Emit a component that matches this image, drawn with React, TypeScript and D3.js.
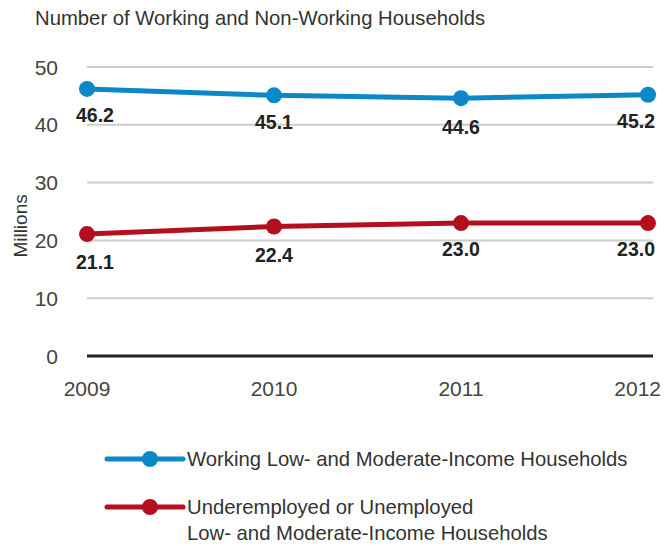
import React from "react";
import * as d3 from "d3";

const years = ["2009", "2010", "2011", "2012"];
const working = [46.2, 45.1, 44.6, 45.2];
const nonWorking = [21.1, 22.4, 23.0, 23.0];
const yTicks = [0, 10, 20, 30, 40, 50];
const title = "Number of Working and Non-Working Households";
const yTitle = "Millions";
const legendWorking = ["Working Low- and Moderate-Income Households"];
const legendNon = ["Underemployed or Unemployed", "Low- and Moderate-Income Households"];

const BLUE = "#0a88c8";
const RED = "#b30f1f";
const FONT = "'Liberation Sans', Arial, sans-serif";

export default function App() {
  const W = 669, H = 546;
  const x = d3.scalePoint<string>().domain(years).range([87, 648]);
  const y = d3.scaleLinear().domain([0, 50]).range([356, 67]);
  const gridX0 = 87, gridX1 = 653;
  const line = d3.line<number>().x((_, i) => x(years[i])!).y((d) => y(d));

  const labelPos = (i: number) => {
    const n = years.length;
    if (i === 0) return { dx: -11, anchor: "start" };
    if (i === n - 1) return { dx: 7, anchor: "end" };
    return { dx: 0, anchor: "middle" };
  };

  const series = [
    { vals: working, color: BLUE, off: [33, 34, 36, 33] },
    { vals: nonWorking, color: RED, off: [35, 35, 33, 33] },
  ];

  return (
    <div style={{ position: "absolute", left: 0, top: 0 }}>
      <svg width={W} height={H} style={{ display: "block", background: "#fff" }} fontFamily={FONT}>
        <text x={35} y={25} fontSize={20.3} fill="#333">{title}</text>
        {yTicks.map((t) => (
          <g key={t}>
            <line x1={gridX0} x2={gridX1} y1={y(t)} y2={y(t)}
              stroke={t === 0 ? "#222" : "#cccccc"} strokeWidth={t === 0 ? 3 : 2} />
            <text x={58} y={y(t)} dy="0.36em" textAnchor="end" fontSize={21} fill="#444">{t}</text>
          </g>
        ))}
        <text transform={`translate(27,${y(22.5)}) rotate(-90)`} textAnchor="middle" fontSize={19} fill="#333">{yTitle}</text>
        {years.map((yr, i) => {
          const last = i === years.length - 1;
          return (
            <text key={yr} x={last ? 661 : x(yr)} y={396} textAnchor={last ? "end" : "middle"} fontSize={21} fill="#444">{yr}</text>
          );
        })}
        {series.map((s, si) => (
          <g key={si}>
            <path d={line(s.vals) || ""} fill="none" stroke={s.color} strokeWidth={5} />
            {s.vals.map((v, i) => (
              <circle key={i} cx={x(years[i])} cy={y(v)} r={8} fill={s.color} />
            ))}
            {s.vals.map((v, i) => {
              const p = labelPos(i);
              return (
                <text key={"l" + i} x={x(years[i])! + p.dx} y={y(v) + s.off[i]} textAnchor={p.anchor as any}
                  fontSize={19.5} fontWeight="bold" fill="#222">{v.toFixed(1)}</text>
              );
            })}
          </g>
        ))}
        <g>
          <line x1={107} x2={183} y1={459} y2={459} stroke={BLUE} strokeWidth={5} strokeLinecap="round" />
          <circle cx={150} cy={459} r={8} fill={BLUE} />
          {legendWorking.map((t, i) => (
            <text key={i} x={187} y={459 + i * 26} dy="0.35em" fontSize={20.3} fill="#333">{t}</text>
          ))}
          <line x1={107} x2={183} y1={507} y2={507} stroke={RED} strokeWidth={5} strokeLinecap="round" />
          <circle cx={150} cy={507} r={8} fill={RED} />
          {legendNon.map((t, i) => (
            <text key={i} x={187} y={507 + i * 26} dy="0.35em" fontSize={20.3} fill="#333">{t}</text>
          ))}
        </g>
      </svg>
    </div>
  );
}
